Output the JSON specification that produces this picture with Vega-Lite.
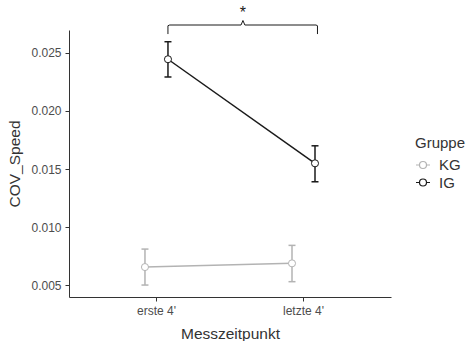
{
  "$schema": "https://vega.github.io/schema/vega-lite/v6.json",
  "autosize": {"type": "none"},
  "padding": {"left": 69, "top": 30, "right": 81, "bottom": 44},
  "width": 322,
  "height": 267,
  "config": {
    "view": {"stroke": null},
    "font": "Liberation Sans",
    "axis": {
      "domainColor": "#333333",
      "tickColor": "#333333",
      "labelColor": "#4d4d4d",
      "titleColor": "#333333",
      "labelFont": "Liberation Sans",
      "titleFont": "Liberation Sans",
      "titleFontWeight": "normal",
      "grid": false,
      "tickSize": 4,
      "domainWidth": 1,
      "tickWidth": 1
    }
  },
  "datasets": {
    "means": [
      {"Messzeitpunkt": "erste 4'", "Gruppe": "KG", "COV_Speed": 0.00655, "lo": 0.0050, "hi": 0.0081},
      {"Messzeitpunkt": "letzte 4'", "Gruppe": "KG", "COV_Speed": 0.00687, "lo": 0.00529, "hi": 0.00842},
      {"Messzeitpunkt": "erste 4'", "Gruppe": "IG", "COV_Speed": 0.02446, "lo": 0.02293, "hi": 0.02597},
      {"Messzeitpunkt": "letzte 4'", "Gruppe": "IG", "COV_Speed": 0.01549, "lo": 0.0139, "hi": 0.0170}
    ],
    "bracket": [
      {"t": 1.078, "y": 0.02663, "o": 1},
      {"t": 1.078, "y": 0.02735, "o": 2},
      {"t": 1.09, "y": 0.02741, "o": 3},
      {"t": 1.575, "y": 0.02741, "o": 4},
      {"t": 1.588, "y": 0.0278, "o": 5},
      {"t": 1.601, "y": 0.02741, "o": 6},
      {"t": 2.085, "y": 0.02741, "o": 7},
      {"t": 2.095, "y": 0.02735, "o": 8},
      {"t": 2.095, "y": 0.02663, "o": 9}
    ],
    "star": [{"t": 1.588, "y": 0.02872, "label": "*"}]
  },
  "resolve": {"scale": {"x": "independent"}, "axis": {"x": "independent"}},
  "layer": [
    {
      "data": {"name": "means"},
      "encoding": {
        "x": {
          "field": "Messzeitpunkt",
          "type": "nominal",
          "sort": ["erste 4'", "letzte 4'"],
          "scale": {"type": "band", "paddingInner": 0, "paddingOuter": 0.095},
          "axis": {"labelAngle": 0, "labelFontSize": 12, "labelPadding": 4, "titleFontSize": 15.5, "titlePadding": 10, "title": "Messzeitpunkt"}
        },
        "xOffset": {
          "field": "Gruppe",
          "type": "nominal",
          "scale": {"domain": ["KG", "IG"], "paddingInner": 0, "paddingOuter": 0, "range": [50.5, 96.5]}
        }
      },
      "layer": [
        {
          "mark": {"type": "line", "strokeWidth": 1.5},
          "encoding": {
            "y": {
              "field": "COV_Speed",
              "type": "quantitative",
              "scale": {"domain": [0.00397, 0.02698], "nice": false, "zero": false},
              "axis": {"values": [0.005, 0.01, 0.015, 0.02, 0.025], "format": ".3f", "labelFontSize": 12, "labelPadding": 4, "titleFontSize": 15.5, "titlePadding": 8, "title": "COV_Speed"}
            },
            "stroke": {
              "field": "Gruppe",
              "type": "nominal",
              "scale": {"domain": ["KG", "IG"], "range": ["#b3b3b3", "#1a1a1a"]},
              "legend": {
                "title": "Gruppe",
                "orient": "none",
                "legendX": 346,
                "legendY": 106,
                "titleFontSize": 15,
                "titleFontWeight": "normal",
                "titleColor": "#333333",
                "titlePadding": 6,
                "labelFontSize": 15,
                "labelColor": "#333333",
                "symbolType": "M-1,0L-0.5,0M0.5,0L1,0M0.5,0A0.5,0.5 0 1 1 -0.5,0A0.5,0.5 0 1 1 0.5,0Z",
                "symbolSize": 196,
                "symbolFillColor": "white",
                "symbolStrokeWidth": 1.2,
                "symbolOpacity": 1,
                "rowPadding": 1.5,
                "labelOffset": 8
              }
            }
          }
        },
        {
          "mark": {"type": "rule", "strokeWidth": 1.5},
          "encoding": {
            "y": {"field": "lo", "type": "quantitative"},
            "y2": {"field": "hi"},
            "stroke": {"field": "Gruppe", "type": "nominal"}
          }
        },
        {
          "mark": {"type": "point", "shape": "M-1,0L1,0", "filled": false, "size": 49, "strokeWidth": 1.5, "opacity": 1},
          "encoding": {
            "y": {"field": "lo", "type": "quantitative"},
            "stroke": {"field": "Gruppe", "type": "nominal"}
          }
        },
        {
          "mark": {"type": "point", "shape": "M-1,0L1,0", "filled": false, "size": 49, "strokeWidth": 1.5, "opacity": 1},
          "encoding": {
            "y": {"field": "hi", "type": "quantitative"},
            "stroke": {"field": "Gruppe", "type": "nominal"}
          }
        },
        {
          "mark": {"type": "point", "shape": "circle", "filled": false, "fill": "white", "fillOpacity": 1, "size": 50, "strokeWidth": 1, "opacity": 1},
          "encoding": {
            "y": {"field": "COV_Speed", "type": "quantitative"},
            "stroke": {"field": "Gruppe", "type": "nominal"}
          }
        }
      ]
    },
    {
      "data": {"name": "bracket"},
      "mark": {"type": "line", "color": "#1a1a1a", "strokeWidth": 1},
      "encoding": {
        "x": {"field": "t", "type": "quantitative", "scale": {"domain": [0.405, 2.595], "nice": false, "zero": false}, "axis": null},
        "y": {"field": "y", "type": "quantitative"},
        "order": {"field": "o"}
      }
    },
    {
      "data": {"name": "star"},
      "mark": {"type": "text", "fontSize": 16, "color": "#1a1a1a", "baseline": "middle", "dy": 3},
      "encoding": {
        "x": {"field": "t", "type": "quantitative", "scale": {"domain": [0.405, 2.595], "nice": false, "zero": false}, "axis": null},
        "y": {"field": "y", "type": "quantitative"},
        "text": {"field": "label"}
      }
    }
  ]
}
